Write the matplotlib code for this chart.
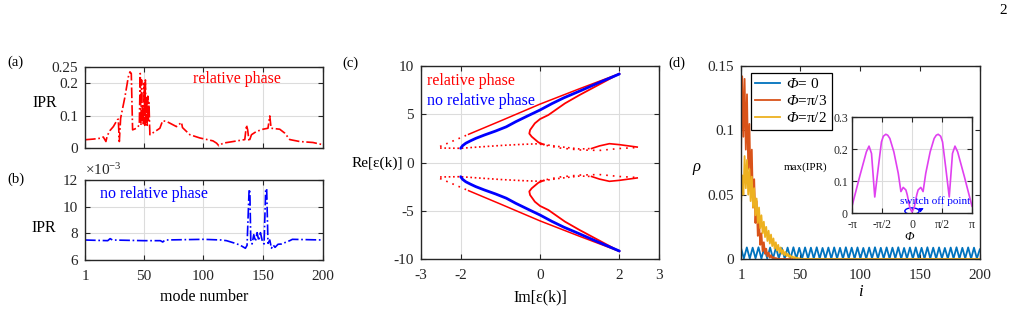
import matplotlib
matplotlib.use('Agg')
import matplotlib.pyplot as plt
from matplotlib.patches import Ellipse

plt.rcParams['font.family'] = ['Liberation Serif', 'DejaVu Serif']
plt.rcParams['mathtext.fontset'] = 'custom'
plt.rcParams['mathtext.rm'] = 'Liberation Serif'
plt.rcParams['mathtext.it'] = 'Liberation Serif:italic'
plt.rcParams['mathtext.sf'] = 'Liberation Serif:italic'  # used for the italic capital Phi
plt.rcParams['axes.unicode_minus'] = False

# ---- (a) IPR with relative phase ----
mode_a = [1, 8, 13.5, 16.3, 18.5, 19.6, 21.9, 24.7, 28, 28.8, 29.7, 30.8, 34.4, 37.2, 38.6,
          39.7, 40.8, 44.1, 46.4, 47.2, 47.8, 48.3, 48.8, 49.3, 49.8, 50.5, 51, 51.5, 52, 52.5,
          53, 53.5, 54, 54.5, 55, 55.3, 60.8, 63.6, 65.9, 69.2, 77.5, 81.7, 82.5, 88.7, 97,
          108, 111, 112.9, 116.5, 124.9, 134.6, 136, 137, 138.2, 140.2, 144.3, 149.9, 154, 155.5,
          156.6, 163.8, 168, 172.2, 180.5, 191.6, 200]
ipr_a = [0.0255, 0.0275, 0.030, 0.034, 0.020, 0.038, 0.054, 0.066, 0.087, 0.089, 0.020, 0.092,
         0.158, 0.219, 0.235, 0.230, 0.056, 0.061, 0.071, 0.230, 0.070, 0.210, 0.080, 0.130,
         0.070, 0.200, 0.070, 0.210, 0.080, 0.160, 0.070, 0.160, 0.080, 0.140, 0.070, 0.041,
         0.054, 0.061, 0.084, 0.082, 0.066, 0.079, 0.063, 0.041, 0.031, 0.022, 0.015, 0.007,
         0.015, 0.020, 0.026, 0.071, 0.056, 0.020, 0.041, 0.051, 0.058, 0.061, 0.099, 0.061,
         0.058, 0.046, 0.026, 0.020, 0.017, 0.010]

# ---- (b) IPR without relative phase (x1e-3) ----
mode_b = [1, 20, 22, 24, 50, 64, 66, 68, 100, 115, 119.3, 124.8, 130.4, 135.1, 136.5, 138.2,
          138.8, 139.6, 140.7, 142.1, 143.5, 144.9, 146.3, 147.7, 149.3, 150.7, 152.1, 152.9,
          154, 155.5, 156.9, 158.3, 159.9, 162.4, 165.2, 168, 172.2, 174.4, 200]
ipr_b = [7.5, 7.45, 7.6, 7.5, 7.45, 7.45, 7.35, 7.5, 7.55, 7.5, 7.45, 7.3, 7.13, 6.88, 7.1,
         11.25, 11.3, 7.5, 7.2, 7.9, 7.4, 8.05, 7.45, 8.05, 7.4, 7.2, 11.3, 11.35, 7.25, 7.5,
         6.88, 7.13, 6.95, 7.18, 7.2, 7.3, 7.45, 7.55, 7.5]

# ---- (c) spectrum, upper half (lower half is the mirror image) ----
blue_im = [-2.0, -1.95, -1.87, -1.75, -1.62, -1.4, -1.12, -0.85, -0.61, -0.3, 0.0, 0.3, 0.6, 1.0, 1.5, 2.0]
blue_re = [1.47, 1.75, 2.0, 2.25, 2.5, 2.85, 3.26, 3.7, 4.23, 4.85, 5.44, 6.1, 6.7, 7.4, 8.3, 9.17]
outer_im = [-1.8, -1.0, 0.0, 1.0, 2.0]
outer_re = [2.92, 4.3, 6.05, 7.65, 9.2]
outer_dot_im = [-2.52, -1.8]
outer_dot_re = [1.66, 2.92]
c_im = [2.0, 1.5, 1.0, 0.63, 0.21, 0.0, -0.13, -0.25, -0.27, -0.21, -0.04, 0.08]
c_re = [9.2, 8.1, 7.0, 6.13, 4.92, 4.5, 4.06, 3.37, 3.0, 2.68, 2.09, 1.88]
flat_im = [-2.52, -2.0, -1.5, -1.0, -0.5, 0.0, 0.08]
flat_re = [1.5, 1.47, 1.62, 1.76, 1.87, 1.95, 1.9]
right1_im = [0.08, 0.5, 1.0, 1.3]
right1_re = [1.88, 1.64, 1.40, 1.45]
right_solid_im = [1.3, 1.5, 1.75, 2.0, 2.45]
right_solid_re = [1.45, 1.72, 1.95, 1.85, 1.6]
right2_im = [0.0, 0.5, 1.0, 1.5, 2.0, 2.45]
right2_re = [1.9, 1.5, 1.3, 1.25, 1.45, 1.55]

# ---- (d) densities ----
orange = [0.080, 0.142, 0.095, 0.140, 0.085, 0.128, 0.070, 0.105, 0.055, 0.085, 0.040, 0.062,
          0.028, 0.045, 0.018, 0.030, 0.011, 0.020, 0.006, 0.013, 0.004, 0.008, 0.002, 0.005,
          0.001, 0.003, 0.0006, 0.0015, 0.0003, 0.0008, 0.0001, 0.0003, 0.0, 0.0]
yellow = [0.042, 0.065, 0.050, 0.080, 0.055, 0.077, 0.050, 0.070, 0.045, 0.064,
          0.040, 0.055, 0.034, 0.047, 0.028, 0.040, 0.024, 0.034, 0.020, 0.029,
          0.017, 0.025, 0.014, 0.022, 0.012, 0.019, 0.010, 0.016, 0.008, 0.013,
          0.0065, 0.011, 0.005, 0.009, 0.004, 0.007, 0.003, 0.0055, 0.0022, 0.004,
          0.0016, 0.003, 0.0011, 0.002, 0.0008, 0.0015, 0.0005, 0.001, 0.0002, 0.0005]
sites = list(range(1, 201))
orange_full = orange + [0.0] * (200 - len(orange))
yellow_full = yellow + [0.0] * (200 - len(yellow))
blue_i = [1, 3.4, 5.85, 8.3, 10.7, 13.1, 15.55, 18, 20.4, 22.8, 25.25, 27.7, 30.1, 32.5, 34.95,
          37.4, 39.8, 42.2, 44.65, 47.1, 49.5, 51.9, 54.35, 56.8, 59.2, 61.6, 64.05, 66.5, 68.9,
          71.3, 73.75, 76.2, 78.6, 81, 83.45, 85.9, 88.3, 90.7, 93.15, 95.6, 98, 100.4, 102.85,
          105.3, 107.7, 110.1, 112.55, 115, 117.4, 119.8, 122.25, 124.7, 127.1, 129.5, 131.95,
          134.4, 136.8, 139.2, 141.65, 144.1, 146.5, 148.9, 151.35, 153.8, 156.2, 158.6, 161.05,
          163.5, 165.9, 168.3, 170.75, 173.2, 175.6, 178, 180.45, 182.9, 185.3, 187.7, 190.15,
          192.6, 195, 197.4, 199.85]
blue_rho = [0.0086, 0.0004, 0.0090, 0.0003, 0.0088, 0.0005, 0.0091, 0.0003, 0.0087, 0.0004,
            0.0089, 0.0003, 0.0090, 0.0005, 0.0086, 0.0003, 0.0089, 0.0004, 0.0091, 0.0003,
            0.0087, 0.0005, 0.0090, 0.0003, 0.0088, 0.0004, 0.0091, 0.0003, 0.0086, 0.0005,
            0.0089, 0.0003, 0.0090, 0.0004, 0.0087, 0.0003, 0.0091, 0.0005, 0.0088, 0.0003,
            0.0090, 0.0004, 0.0086, 0.0003, 0.0089, 0.0005, 0.0091, 0.0003, 0.0087, 0.0004,
            0.0090, 0.0003, 0.0088, 0.0005, 0.0091, 0.0003, 0.0086, 0.0004, 0.0089, 0.0003,
            0.0090, 0.0005, 0.0087, 0.0003, 0.0091, 0.0004, 0.0088, 0.0003, 0.0090, 0.0005,
            0.0086, 0.0003, 0.0089, 0.0004, 0.0091, 0.0003, 0.0087, 0.0005, 0.0090, 0.0003,
            0.0088, 0.0004, 0.0075]

# ---- inset: max(IPR) vs phi ----
phi = [-3.1416, -2.74, -2.39, -2.25, -2.12, -1.95, -1.77, -1.6, -1.5, -1.37, -1.27, -1.16, -0.95,
       -0.72, -0.58, -0.46, -0.32, -0.25, -0.11, 0.0, 0.11, 0.25, 0.32, 0.46, 0.58, 0.72, 0.95,
       1.16, 1.27, 1.37, 1.5, 1.6, 1.77, 1.95, 2.12, 2.25, 2.39, 2.74, 3.1416]
maxipr = [0.021, 0.114, 0.191, 0.209, 0.186, 0.05, 0.14, 0.222, 0.240, 0.246, 0.243, 0.233, 0.191,
          0.124, 0.067, 0.08, 0.072, 0.057, 0.016, 0.003, 0.016, 0.057, 0.072, 0.08, 0.067, 0.124,
          0.191, 0.233, 0.243, 0.246, 0.240, 0.222, 0.14, 0.05, 0.186, 0.209, 0.191, 0.114, 0.021]

RED = '#ff0000'
BLUE = '#0000ff'
AX = '#262626'
GRID = '#dcdcdc'


def style(ax, fs=11, xpad=7, ypad=5):
    ax.tick_params(direction='in', top=True, right=True, length=3.5, width=0.8,
                   labelsize=fs, colors=AX, pad=ypad)
    ax.tick_params(axis='x', pad=xpad)
    for sp in ax.spines.values():
        sp.set_linewidth(1.0)
        sp.set_color(AX)


fig = plt.figure(figsize=(10.13, 3.11), dpi=100)
W, H = 1013.0, 311.0


def box(l, r, t, b):
    return [l / W, 1 - b / H, (r - l) / W, (b - t) / H]


# (a)
axa = fig.add_axes(box(85, 323, 67, 148))
axa.plot(mode_a, ipr_a, '-.', color=RED, lw=1.2)
axa.set_xlim(1, 200)
axa.set_ylim(0, 0.25)
axa.set_xticks([1, 50, 100, 150, 200])
axa.set_xticklabels([])
axa.set_yticks([0, 0.1, 0.2, 0.25])
axa.set_yticklabels(['0', '0.1', '0.2', '0.25'])
axa.grid(True, color=GRID, lw=0.8)
axa.set_axisbelow(True)
style(axa)
axa.text(91, 0.2145, 'relative phase', color=RED, fontsize=11.5, va='center')
axa.set_ylabel('IPR', rotation=0, fontsize=11.5, va='center', ha='center')
axa.yaxis.set_label_coords(-0.168, 0.556)

# (b)
axb = fig.add_axes(box(85, 323, 180, 260))
axb.plot(mode_b, ipr_b, '-.', color=BLUE, lw=1.2)
axb.set_xlim(1, 200)
axb.set_ylim(6, 12)
axb.set_xticks([1, 50, 100, 150, 200])
axb.set_yticks([6, 8, 10, 12])
axb.grid(True, color=GRID, lw=0.8)
axb.set_axisbelow(True)
style(axb)
axb.text(13.5, 10.95, 'no relative phase', color=BLUE, fontsize=11.5, va='center')
axb.text(0.0, 1.02, '×10$^{-3}$', transform=axb.transAxes, fontsize=11, va='bottom', ha='left', color=AX)
axb.set_ylabel('IPR', rotation=0, fontsize=11.5, va='center', ha='center')
axb.yaxis.set_label_coords(-0.172, 0.4)
axb.set_xlabel('mode number', fontsize=11.5, va='center')
axb.xaxis.set_label_coords(0.5, -0.46)

# (c)
axc = fig.add_axes(box(421, 659, 66, 259))
for s in (1, -1):
    axc.plot(outer_dot_im, [s * v for v in outer_dot_re], color=RED, lw=1.2, ls=(0, (1, 3)))
    axc.plot(outer_im, [s * v for v in outer_re], color=RED, lw=1.1)
    axc.plot(c_im, [s * v for v in c_re], color=RED, lw=1.3)
    axc.plot(flat_im, [s * v for v in flat_re], color=RED, lw=1.2, ls=(0, (1, 1.6)))
    axc.plot(right1_im, [s * v for v in right1_re], color=RED, lw=1.2, ls=(0, (1, 2)))
    axc.plot(right_solid_im, [s * v for v in right_solid_re], color=RED, lw=1.2)
    axc.plot(right2_im, [s * v for v in right2_re], color=RED, lw=1.2, ls=(0, (1, 3)))
    axc.plot(blue_im, [s * v for v in blue_re], color=BLUE, lw=2.0, solid_capstyle='round')
axc.set_xlim(-3, 3)
axc.set_ylim(-10, 10)
axc.set_xticks([-3, -2, 0, 2, 3])
axc.set_yticks([-10, -5, 0, 5, 10])
axc.grid(True, color=GRID, lw=0.8)
axc.set_axisbelow(True)
style(axc)
axc.text(-2.85, 8.45, 'relative phase', color=RED, fontsize=11.5, va='center')
axc.text(-2.85, 6.37, 'no relative phase', color=BLUE, fontsize=11.5, va='center')
axc.set_ylabel('Re[ε(k)]', rotation=0, fontsize=11, va='center', ha='center')
axc.yaxis.set_label_coords(-0.185, 0.497)
axc.set_xlabel('Im[ε(k)]', fontsize=11.5, va='center')
axc.xaxis.set_label_coords(0.5, -0.197)

# (d)
axd = fig.add_axes(box(741, 980, 66, 259))
axd.plot(blue_i, blue_rho, color='#0072BD', lw=1.3, label=r'$\mathsf{Φ}$= 0')
axd.plot(sites, orange_full, color='#D95319', lw=1.3, label=r'$\mathsf{Φ}$=π/3')
axd.plot(sites, yellow_full, color='#EDB120', lw=1.3, label=r'$\mathsf{Φ}$=π/2')
axd.set_xlim(1, 200)
axd.set_ylim(0, 0.15)
axd.set_xticks([1, 50, 100, 150, 200])
axd.set_yticks([0, 0.05, 0.1, 0.15])
axd.set_yticklabels(['0', '0.05', '0.1', '0.15'])
style(axd)
leg = axd.legend(loc='upper left', bbox_to_anchor=(0.04, 0.965), borderaxespad=0, fontsize=11,
                 fancybox=False, edgecolor='black', framealpha=1, handlelength=1.6,
                 handletextpad=0.4, labelspacing=0.2, borderpad=0.3)
leg.get_frame().set_linewidth(0.9)
axd.set_ylabel('ρ', rotation=0, fontsize=12, style='italic', va='center', ha='center')
axd.yaxis.set_label_coords(-0.188, 0.477)
axd.set_xlabel('i', fontsize=12, style='italic', va='center')
axd.xaxis.set_label_coords(0.5, -0.17)

# inset
axi = fig.add_axes(box(852, 972, 117, 213))
axi.plot(phi, maxipr, color='#E040F0', lw=1.2)
axi.set_xlim(-3.1416, 3.1416)
axi.set_ylim(0, 0.3)
axi.set_xticks([-3.1416, -1.5708, 0, 1.5708, 3.1416])
axi.set_xticklabels(['-π', '-π/2', '0', 'π/2', 'π'])
axi.set_yticks([0, 0.1, 0.2, 0.3])
axi.set_yticklabels(['0', '0.1', '0.2', '0.3'])
axi.grid(True, color=GRID, lw=0.8)
axi.set_axisbelow(True)
style(axi, fs=8.5, xpad=4, ypad=3)
axi.add_patch(Ellipse((0.0, 0.006), 0.75, 0.02, fill=False, edgecolor=BLUE, lw=1.0))
axi.annotate('', xy=(0.75, 0.019), xytext=(0.3, 0.006),
             arrowprops=dict(arrowstyle='-|>', color=BLUE, lw=0.8, mutation_scale=6))
axi.text(-0.63, 0.036, 'switch off point', color=BLUE, fontsize=8, va='center', ha='left')
axi.set_ylabel('max(IPR)', rotation=0, fontsize=8, va='center', ha='center')
axi.yaxis.set_label_coords(-0.39, 0.474)
axi.set_xlabel('Φ', fontsize=9, style='italic', va='center')
axi.xaxis.set_label_coords(0.48, -0.255)

# panel tags and page number
fig.text(7 / W, 1 - 62 / H, '(a)', fontsize=10.5, va='center', ha='left')
fig.text(7 / W, 1 - 179 / H, '(b)', fontsize=10.5, va='center', ha='left')
fig.text(342 / W, 1 - 63 / H, '(c)', fontsize=10.5, va='center', ha='left')
fig.text(668 / W, 1 - 63 / H, '(d)', fontsize=10.5, va='center', ha='left')
fig.text(1003 / W, 1 - 10 / H, '2', fontsize=11, va='center', ha='center')

fig.savefig('out.png', dpi=100)
